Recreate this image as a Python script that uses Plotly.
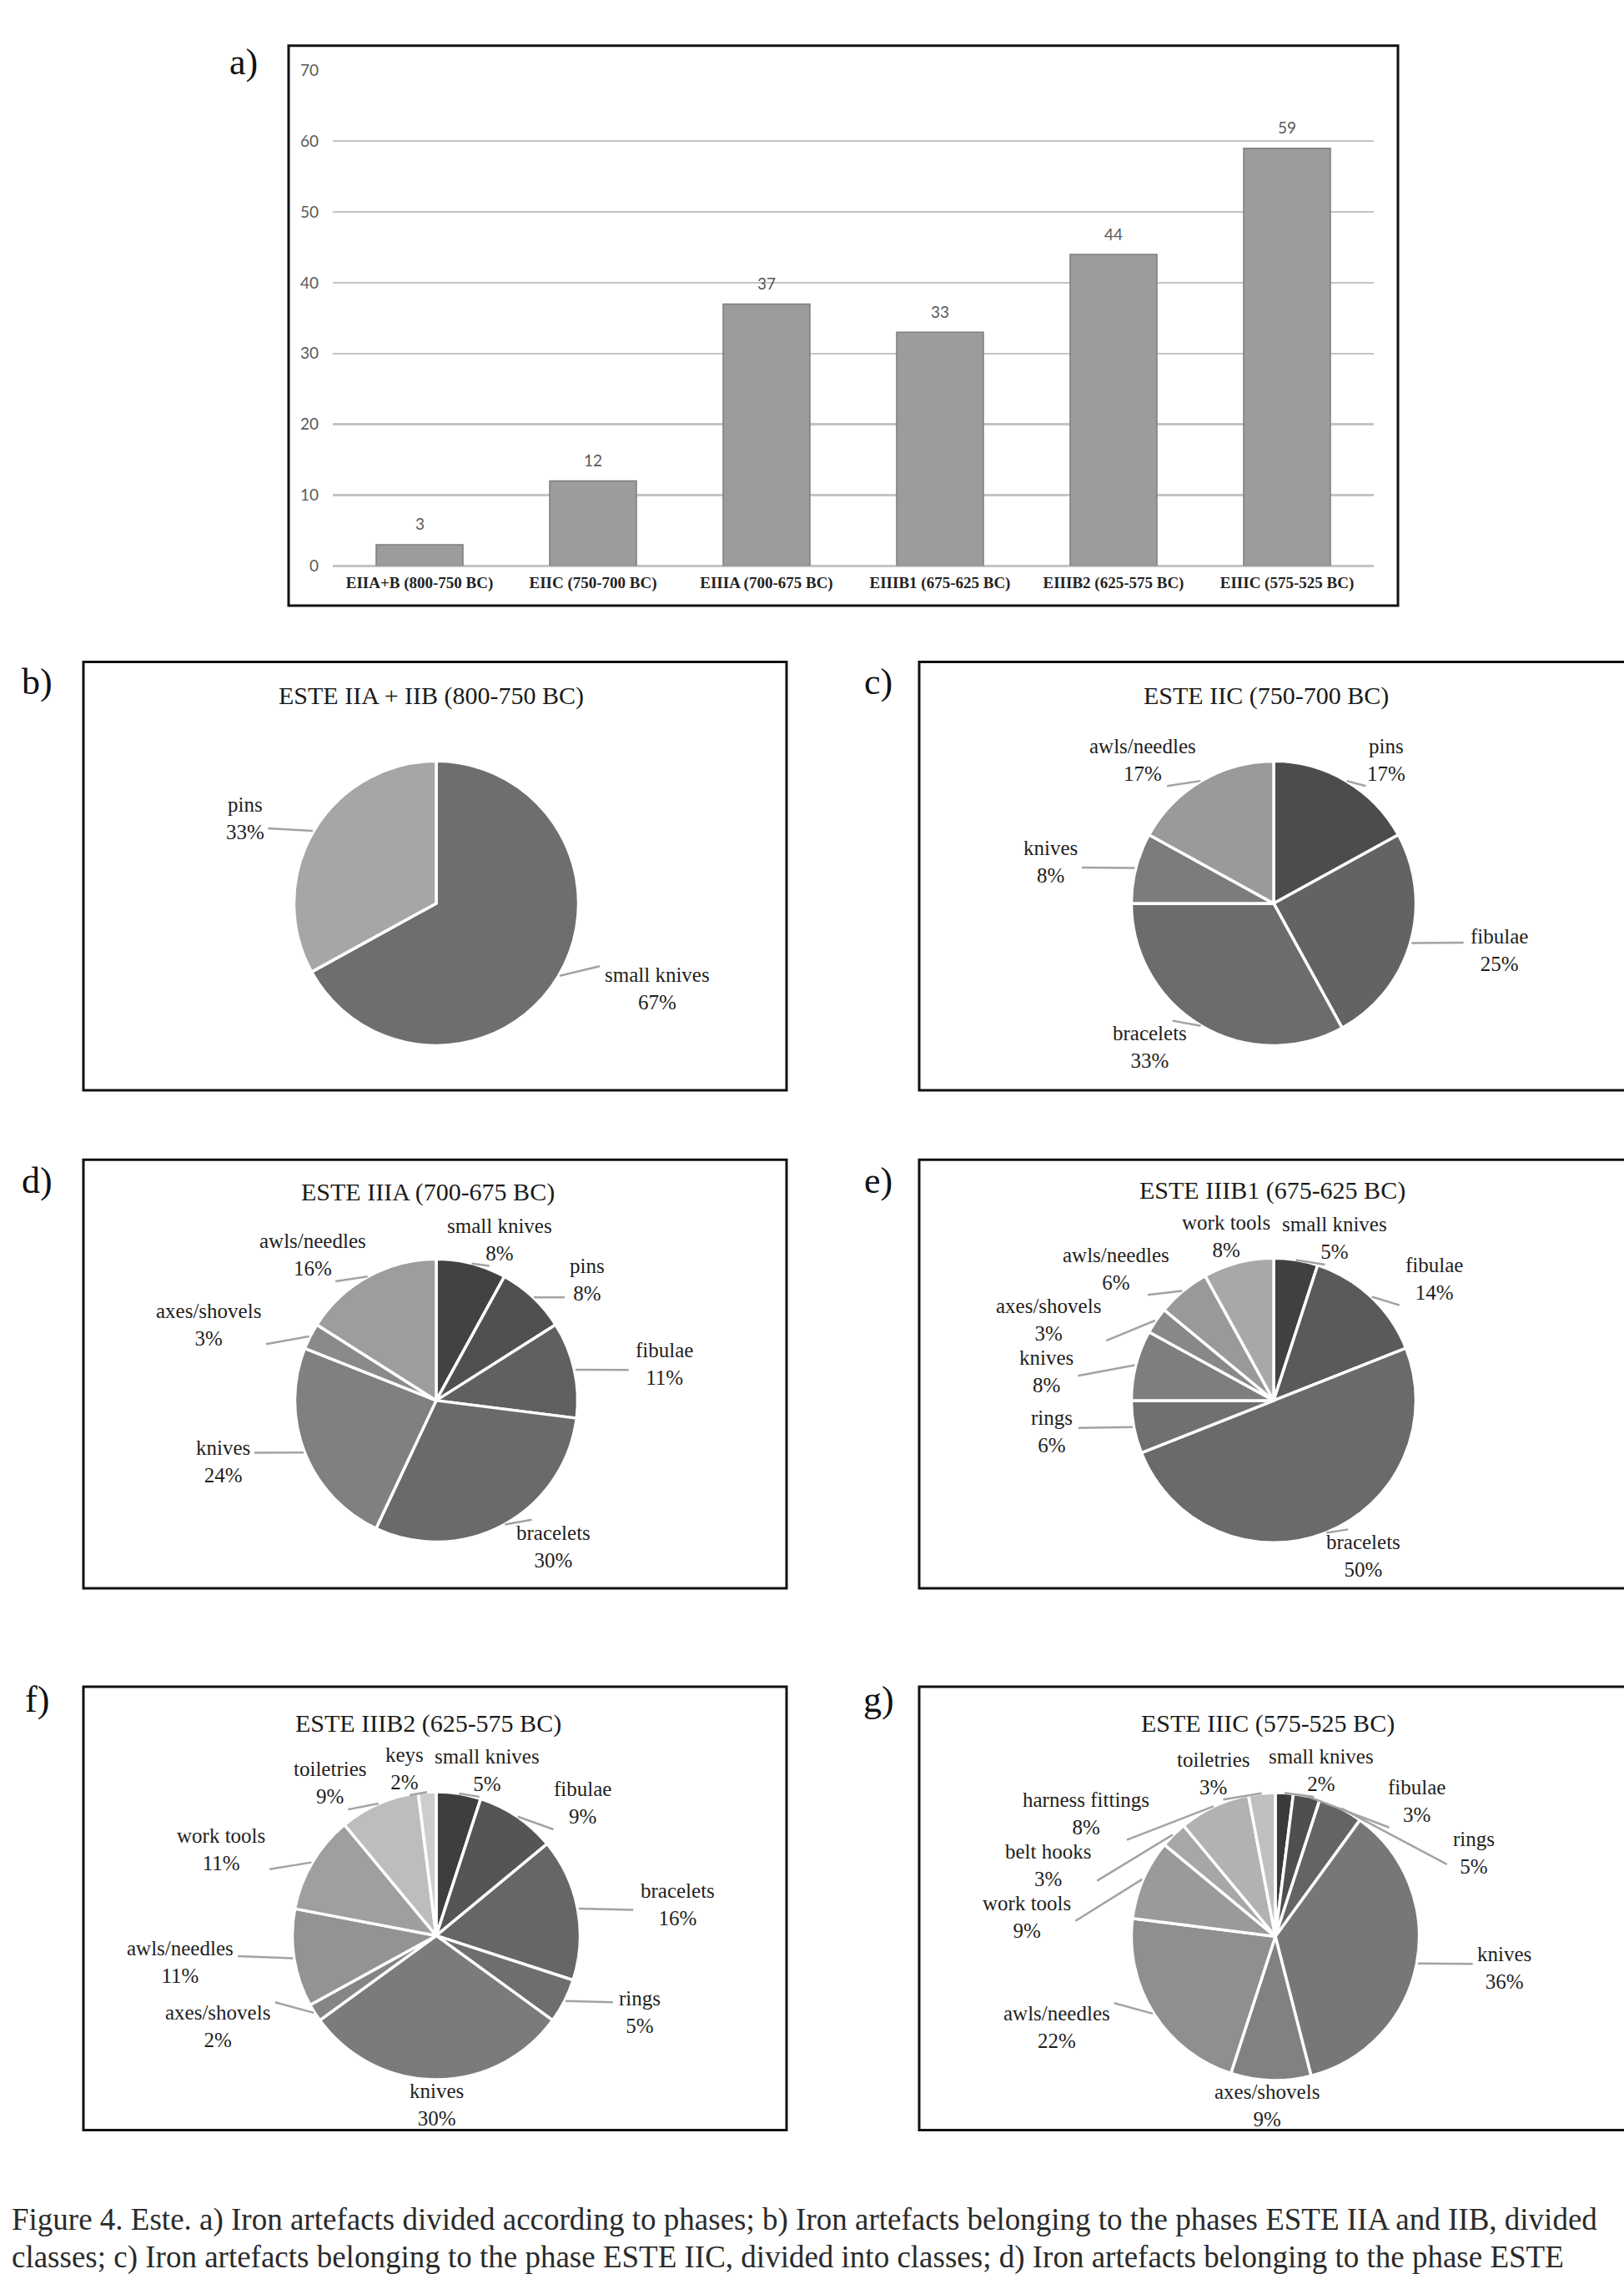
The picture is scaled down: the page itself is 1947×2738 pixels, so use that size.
import math
import plotly.graph_objects as go

W, H = 1947, 2738

# ---------------- data ----------------
phases = ["EIIA+B (800-750 BC)", "EIIC (750-700 BC)", "EIIIA (700-675 BC)",
          "EIIIB1 (675-625 BC)", "EIIIB2 (625-575 BC)", "EIIIC (575-525 BC)"]
counts = [3, 12, 37, 33, 44, 59]
y_ticks = [0, 10, 20, 30, 40, 50, 60, 70]

b_title = "ESTE IIA + IIB (800-750 BC)"
b_labels = ["small knives", "pins"]
b_pct = [67, 33]
b_colors = ["#6e6e6e", "#a6a6a6"]

c_title = "ESTE IIC (750-700 BC)"
c_labels = ["pins", "fibulae", "bracelets", "knives", "awls/needles"]
c_pct = [17, 25, 33, 8, 17]
c_colors = ["#4c4c4c", "#636363", "#6c6c6c", "#7c7c7c", "#9a9a9a"]

d_title = "ESTE IIIA (700-675 BC)"
d_labels = ["small knives", "pins", "fibulae", "bracelets", "knives", "axes/shovels", "awls/needles"]
d_pct = [8, 8, 11, 30, 24, 3, 16]
d_colors = ["#424242", "#505050", "#606060", "#6a6a6a", "#808080", "#8a8a8a", "#9d9d9d"]

e_title = "ESTE IIIB1 (675-625 BC)"
e_labels = ["small knives", "fibulae", "bracelets", "rings", "knives", "axes/shovels", "awls/needles", "work tools"]
e_pct = [5, 14, 50, 6, 8, 3, 6, 8]
e_colors = ["#404040", "#5a5a5a", "#6a6a6a", "#707070", "#7e7e7e", "#888888", "#999999", "#a8a8a8"]

f_title = "ESTE IIIB2 (625-575 BC)"
f_labels = ["small knives", "fibulae", "bracelets", "rings", "knives", "axes/shovels",
            "awls/needles", "work tools", "toiletries", "keys"]
f_pct = [5, 9, 16, 5, 30, 2, 11, 11, 9, 2]
f_colors = ["#3e3e3e", "#555555", "#666666", "#6e6e6e", "#7b7b7b", "#858585",
            "#939393", "#9f9f9f", "#bdbdbd", "#cdcdcd"]

g_title = "ESTE IIIC (575-525 BC)"
g_labels = ["small knives", "fibulae", "rings", "knives", "axes/shovels", "awls/needles",
            "work tools", "belt hooks", "harness fittings", "toiletries"]
g_pct = [2, 3, 5, 36, 9, 22, 9, 3, 8, 3]
g_colors = ["#3a3a3a", "#4f4f4f", "#646464", "#777777", "#818181", "#8f8f8f",
            "#9a9a9a", "#a7a7a7", "#b2b2b2", "#c0c0c0"]

caption_1 = ("Figure 4. Este. a) Iron artefacts divided according to phases; b) Iron artefacts "
             "belonging to the phases ESTE IIA and IIB, divided")
caption_2 = ("classes; c) Iron artefacts belonging to the phase ESTE IIC, divided into classes; "
             "d) Iron artefacts belonging to the phase ESTE")

SERIF = "Liberation Serif"


def X(p):
    return p / W


def Y(p):
    return 1 - p / H


def note(xp, yp, text, font, xanchor="center", yanchor="middle", align="center"):
    return dict(x=X(xp), y=Y(yp), xref="paper", yref="paper", text=text, showarrow=False,
                xanchor=xanchor, yanchor=yanchor, align=align, font=font)


fig = go.Figure()
shapes = []
annotations = []

# ---------------- a) bar chart ----------------
fig.add_trace(go.Bar(
    x=phases, y=counts, width=0.5,
    marker=dict(color="#9c9c9c", line=dict(color="#7c7c7c", width=1.5)),
    hoverinfo="skip", showlegend=False))
for cat, v in zip(phases, counts):
    annotations.append(dict(x=cat, y=v, xref="x", yref="y", text=str(v), showarrow=False,
                            xanchor="center", yanchor="middle", yshift=25,
                            font=dict(family="Lato", size=19, color="#595959")))

shapes.append(dict(type="rect", xref="paper", yref="paper", x0=X(346), x1=X(1676),
                   y0=Y(720), y1=Y(43), line=dict(color="#111111", width=3)))
annotations.append(note(292, 63, "a)", dict(family=SERIF, size=44, color="#111111")))

fig.update_layout(
    xaxis=dict(domain=[X(399), X(1647)], showgrid=False, showline=False, ticks="",
               tickfont=dict(family=SERIF, size=19, color="#222222", weight="bold"),
               ticklabelstandoff=7, fixedrange=True),
    yaxis=dict(domain=[Y(672), Y(73)], range=[0, 70], tickvals=y_ticks,
               showgrid=True, gridcolor="#c4c4c4", gridwidth=2.5,
               zeroline=True, zerolinecolor="#c4c4c4", zerolinewidth=2.5,
               showline=False, ticks="", ticklabelstandoff=16,
               tickfont=dict(family="Lato", size=19, color="#595959"), fixedrange=True),
)

# ---------------- pies ----------------
panels = [
    dict(tag="b)", title=b_title, labels=b_labels, pct=b_pct, colors=b_colors,
         cx=523, cy=1080, r=172, box=(100, 788, 943, 1306), tagpos=(44, 812), tx=517, ty=829),
    dict(tag="c)", title=c_title, labels=c_labels, pct=c_pct, colors=c_colors,
         cx=1527, cy=1080, r=172, box=(1102, 788, 1965, 1306), tagpos=(1053, 812), tx=1518, ty=829),
    dict(tag="d)", title=d_title, labels=d_labels, pct=d_pct, colors=d_colors,
         cx=523, cy=1681, r=171, box=(100, 1390, 943, 1908), tagpos=(44, 1415), tx=513, ty=1429),
    dict(tag="e)", title=e_title, labels=e_labels, pct=e_pct, colors=e_colors,
         cx=1527, cy=1681, r=172, box=(1102, 1390, 1965, 1908), tagpos=(1053, 1415), tx=1525, ty=1427),
    dict(tag="f)", title=f_title, labels=f_labels, pct=f_pct, colors=f_colors,
         cx=523, cy=2328, r=174, box=(100, 2027, 943, 2563), tagpos=(44, 2043), tx=513, ty=2071),
    dict(tag="g)", title=g_title, labels=g_labels, pct=g_pct, colors=g_colors,
         cx=1529, cy=2329, r=174, box=(1102, 2027, 1965, 2563), tagpos=(1053, 2043), tx=1520, ty=2071),
]

LFS = 25          # label font size
LH = 60           # effective label box height


def label_layout(cx, cy, r, labels, pct):
    total = float(sum(pct))
    mids, cum = [], 0.0
    for p in pct:
        mids.append((cum + p / 2.0) / total * 360.0)
        cum += p
    widths = [max(len(l), len(str(p)) + 1) * 0.42 * LFS + 8 for l, p in zip(labels, pct)]
    rx0, ry0 = 1.40 * r, 1.0 * r

    def pos(phi, w):
        a = math.radians(phi)
        return (cx + math.sin(a) * (rx0 + w / 2.0), cy - math.cos(a) * (ry0 + LH / 2.0))

    phi = list(mids)
    n = len(phi)
    for _ in range(3000):
        moved = False
        for i in range(n):
            j = (i + 1) % n
            if n < 2 or (n == 2 and i == 1):
                continue
            xi, yi = pos(phi[i], widths[i])
            xj, yj = pos(phi[j], widths[j])
            ox = (widths[i] + widths[j]) / 2.0 + 6 - abs(xi - xj)
            oy = LH + 2 - abs(yi - yj)
            if ox > 0 and oy > 0:
                phi[i] -= 0.3
                phi[j] += 0.3
                moved = True
        if not moved:
            break
    out = []
    for k in range(n):
        lx, ly = pos(phi[k], widths[k])
        out.append((lx, ly, widths[k], mids[k]))
    return out


for pn in panels:
    cx, cy, r = pn["cx"], pn["cy"], pn["r"]
    fig.add_trace(go.Pie(
        labels=pn["labels"], values=pn["pct"], sort=False, direction="clockwise", rotation=0,
        marker=dict(colors=pn["colors"], line=dict(color="#ffffff", width=3.5)),
        textinfo="none", hoverinfo="skip", showlegend=False,
        domain=dict(x=[X(cx - r), X(cx + r)], y=[Y(cy + r), Y(cy - r)])))
    x0, y0, x1, y1 = pn["box"]
    shapes.append(dict(type="rect", xref="paper", yref="paper", x0=X(x0), x1=X(x1),
                       y0=Y(y1), y1=Y(y0), line=dict(color="#111111", width=3)))
    annotations.append(note(pn["tagpos"][0], pn["tagpos"][1], pn["tag"],
                            dict(family=SERIF, size=44, color="#111111")))
    annotations.append(note(pn["tx"], pn["ty"], pn["title"],
                            dict(family=SERIF, size=30, color="#1a1a1a")))
    for (lx, ly, w, mid), lab, p in zip(label_layout(cx, cy, r, pn["labels"], pn["pct"]),
                                        pn["labels"], pn["pct"]):
        annotations.append(note(lx, ly, f"{lab}<br>{p}%",
                                dict(family=SERIF, size=LFS, color="#1e1e1e")))
        a = math.radians(mid)
        ex, ey = cx + r * math.sin(a), cy - r * math.cos(a)
        vx, vy = cx - lx, cy - ly
        t = min((w / 2.0 + 2) / max(abs(vx), 1e-6), (LH / 2.0 + 2) / max(abs(vy), 1e-6))
        px_, py_ = lx + vx * t, ly + vy * t
        if math.hypot(px_ - ex, py_ - ey) > 18:
            shapes.append(dict(type="line", xref="paper", yref="paper",
                               x0=X(ex), y0=Y(ey), x1=X(px_), y1=Y(py_),
                               line=dict(color="#a3a3a3", width=2.5)))

# ---------------- caption ----------------
annotations.append(note(12, 2671, caption_1, dict(family=SERIF, size=37, color="#2a2a2a"),
                        xanchor="left", align="left"))
annotations.append(note(12, 2717, caption_2, dict(family=SERIF, size=37, color="#2a2a2a"),
                        xanchor="left", align="left"))

fig.update_layout(
    width=W, height=H, autosize=False,
    margin=dict(l=0, r=0, t=0, b=0, pad=0),
    paper_bgcolor="#ffffff", plot_bgcolor="#ffffff",
    shapes=shapes, annotations=annotations, showlegend=False,
)

fig.write_html(
    "out.html",
    config={"displayModeBar": False, "staticPlot": True},
    post_script=("var gd=document.querySelector('.plotly-graph-div');"
                 "gd.style.position='absolute';gd.style.left='0px';gd.style.top='0px';"
                 "document.body.style.margin='0px';document.body.style.padding='0px';"
                 "document.body.style.overflow='hidden';"
                 "document.documentElement.style.overflow='hidden';"),
)
